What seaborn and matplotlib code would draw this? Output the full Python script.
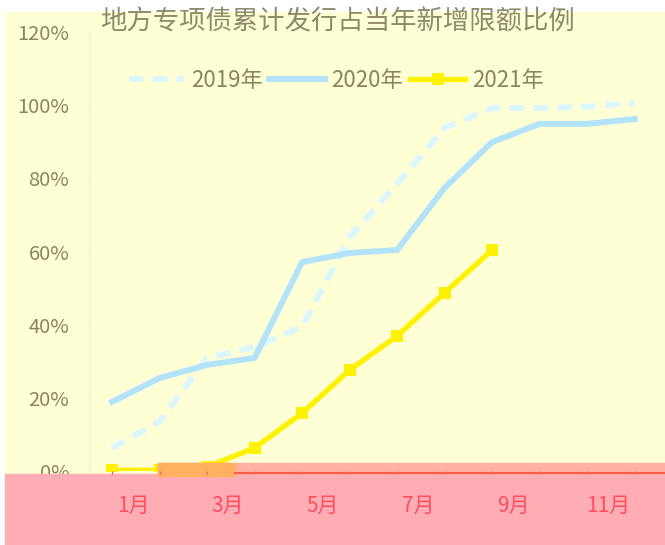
import numpy as np
import pandas as pd
import matplotlib.pyplot as plt
import seaborn as sns
from matplotlib.lines import Line2D
from matplotlib.patches import Rectangle

# data (percent of new quota issued, cumulative)
months = list(range(1, 13))
v2019 = [6.3, 13.5, 30.9, 33.9, 39.4, 64.0, 78.5, 93.8, 99.2, 99.2, 99.6, 100.6]
v2020 = [18.9, 25.4, 29.0, 30.9, 57.1, 59.6, 60.4, 77.4, 89.9, 94.9, 94.9, 96.2]
v2021 = [0.2, 0.2, 1.1, 6.3, 15.8, 27.6, 36.9, 48.7, 60.4]
series_names = ['2019年', '2020年', '2021年']
x_labels = ['1月', '3月', '5月', '7月', '9月', '11月']
y_ticks = [0, 20, 40, 60, 80, 100, 120]
title = '地方专项债累计发行占当年新增限额比例'

bg = '#ffffd5'
olive = '#8a8462'
c2019 = '#daf6ff'
c2020 = '#b3e3fa'
c2021 = '#fff200'

plt.rcParams['font.family'] = ['Noto Sans CJK SC', 'DejaVu Sans']

W, H = 665, 545
def fx(px):
    return px / W
def fy(py):
    return 1 - py / H

fig = plt.figure(figsize=(6.65, 5.45), dpi=100, facecolor='white')
fig.patches.append(Rectangle((fx(5), 0), 1 - fx(5), fy(12), transform=fig.transFigure,
                             color=bg, zorder=0))

ax = fig.add_axes([fx(90), fy(471), fx(656) - fx(90), fy(32) - fy(471)])
ax.set_zorder(1)
ax.patch.set_visible(False)

df19 = pd.DataFrame({'month': months, 'value': v2019})
df20 = pd.DataFrame({'month': months, 'value': v2020})
df21 = pd.DataFrame({'month': months[:len(v2021)], 'value': v2021})

sns.lineplot(data=df19, x='month', y='value', ax=ax, color=c2019, lw=4.3,
             linestyle=(0, (2.4, 1.6)), solid_capstyle='butt')
sns.lineplot(data=df20, x='month', y='value', ax=ax, color=c2020, lw=4.3)
sns.lineplot(data=df21, x='month', y='value', ax=ax, color=c2021, lw=3.8,
             marker='s', markersize=9, markeredgewidth=0)

ax.set_xlim(0.537, 12.45)
ax.set_ylim(0, 120)
ax.set_xlabel('')
ax.set_ylabel('')
ax.set_yticks(y_ticks)
ax.set_yticklabels([f'{v}%' for v in y_ticks])
ax.tick_params(axis='y', length=3, color='#eeeec8', pad=12, labelsize=14.5, labelcolor=olive)

ax.set_xticks([m + 0.44 for m in months[::2]])
ax.set_xticklabels(x_labels)
ax.set_xticks(months, minor=True)
ax.tick_params(axis='x', which='major', length=0, pad=17, labelsize=15, labelcolor='#ff4d5e')
ax.tick_params(axis='x', which='minor', length=2.5, width=1, color='#ff5a50')
ax.xaxis.set_zorder(6)

for s in ['top', 'right', 'bottom']:
    ax.spines[s].set_visible(False)
ax.spines['left'].set_color('#f2f2cc')

# pink band along the bottom
ax.add_patch(Rectangle((fx(5), 0), 1 - fx(5), fy(474), transform=fig.transFigure,
                       color='#ffadb5', clip_on=False, zorder=3))
ax.add_patch(Rectangle((fx(158), fy(474)), 1 - fx(158), fy(463) - fy(474),
                       transform=fig.transFigure, color='#ffb2a2', clip_on=False, zorder=3))
ax.add_patch(Rectangle((fx(158), fy(476)), fx(235) - fx(158), fy(463) - fy(476),
                       transform=fig.transFigure, color='#ffb060', clip_on=False, zorder=3.5))
ax.add_line(Line2D([fx(235), 1], [fy(473), fy(473)], transform=fig.transFigure,
                   color='#ff5a50', lw=1.5, clip_on=False, zorder=4))

handles = [
    Line2D([], [], color=c2019, lw=4.3, linestyle=(0, (2.4, 1.6))),
    Line2D([], [], color=c2020, lw=4.3),
    Line2D([], [], color=c2021, lw=3.8, marker='s', markersize=9, markeredgewidth=0),
]
ax.legend(handles, series_names, ncol=3, loc='center', bbox_to_anchor=(0.435, 0.89),
          frameon=False, fontsize=16, labelcolor=olive, handlelength=2.5,
          handletextpad=0.3, columnspacing=0.3)

fig.text(fx(337), fy(22), title, ha='center', va='center', fontsize=19, color='#8e8a6a')

fig.savefig('out.png', dpi=100, facecolor=fig.get_facecolor())
